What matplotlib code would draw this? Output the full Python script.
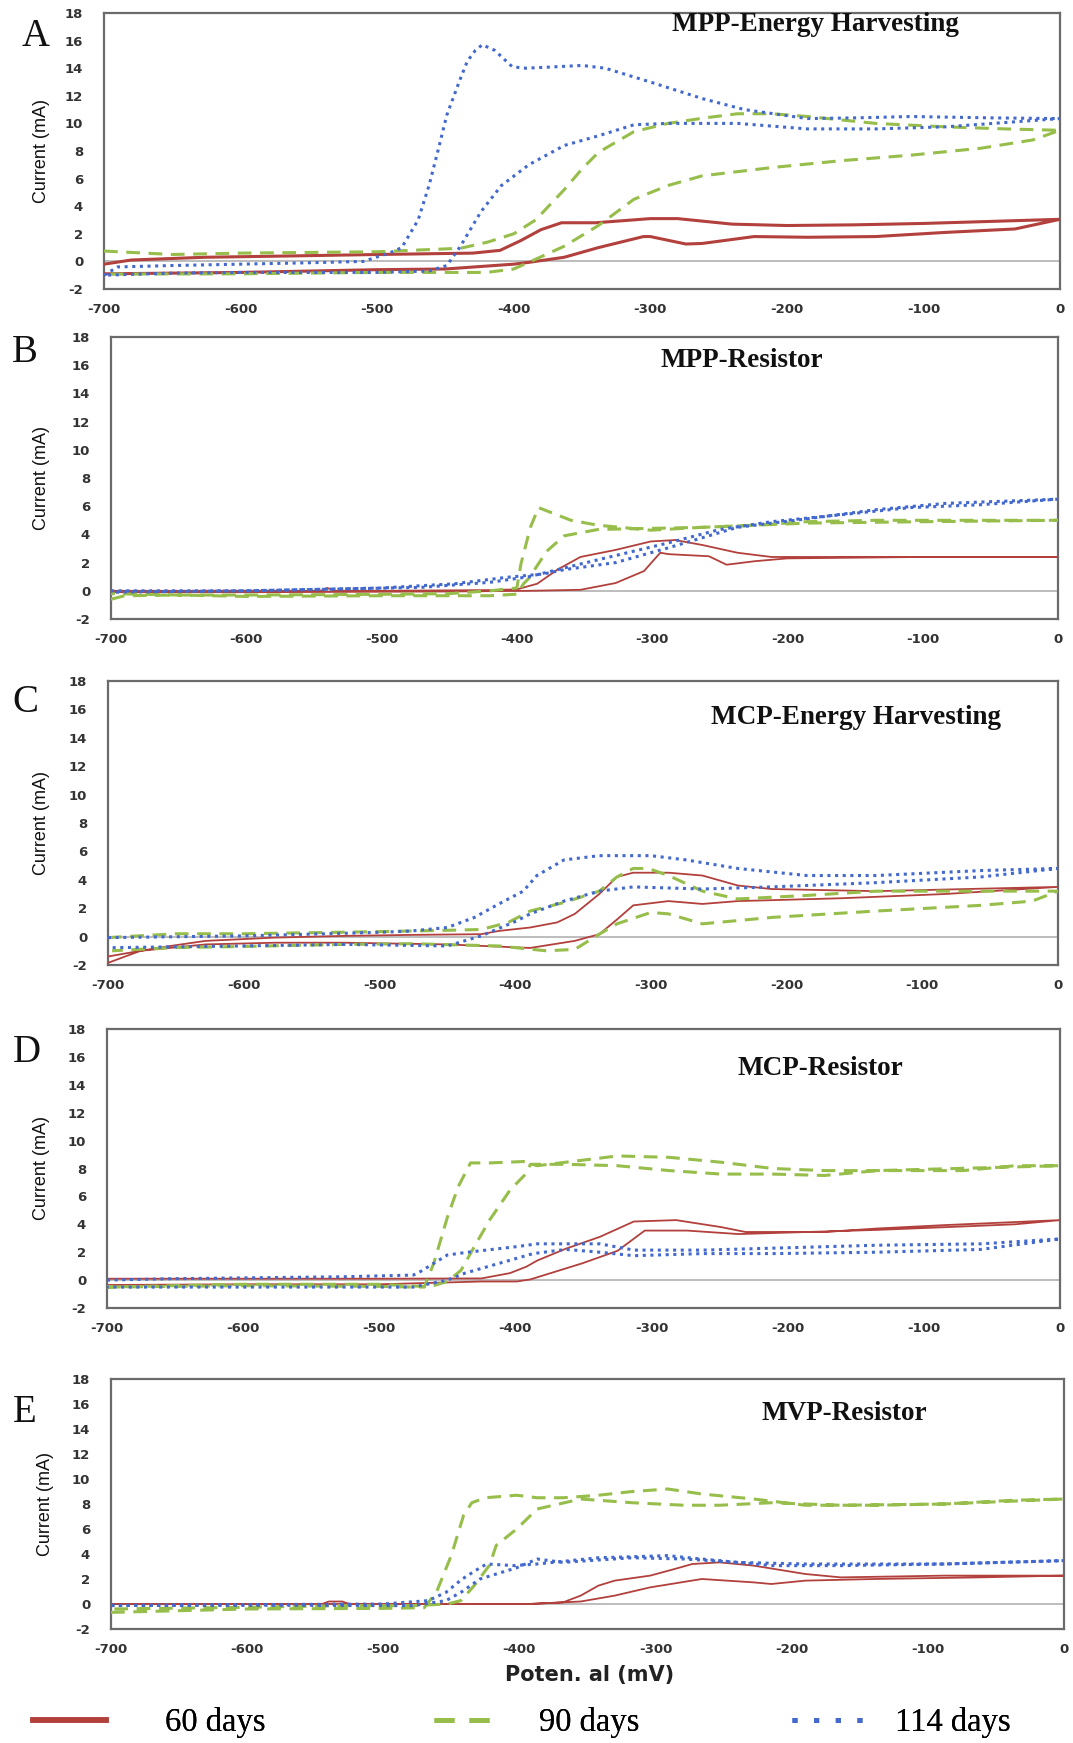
import matplotlib
matplotlib.use("Agg")
import matplotlib.pyplot as plt
from matplotlib.lines import Line2D

plt.rcParams["axes.unicode_minus"] = False

# ---------------- data (each series = closed CV loop: forward branch then return) -------------
# Panel A: MPP-Energy Harvesting
A_red_x = [-700, -680, -626, -560, -500, -430, -410, -395, -380, -365, -340, -300, -280, -260, -240, -200, -150, -100, -50, 0,
           -33, -84, -135, -185, -224, -262, -274, -300, -305, -338, -363, -389, -400, -450, -500, -600, -700]
A_red_y = [-0.2, 0.1, 0.3, 0.4, 0.5, 0.6, 0.8, 1.5, 2.3, 2.8, 2.8, 3.1, 3.1, 2.9, 2.7, 2.6, 2.65, 2.75, 2.9, 3.05,
           2.35, 2.1, 1.8, 1.75, 1.8, 1.3, 1.26, 1.8, 1.8, 1.0, 0.3, -0.07, -0.2, -0.55, -0.6, -0.8, -0.9]
A_grn_x = [-700, -650, -600, -500, -439, -419, -400, -384, -363, -350, -338, -312, -287, -260, -236, -211, -185, -135, -84, -40, 0,
           -20, -58, -109, -160, -211, -262, -287, -312, -338, -363, -389, -400, -420, -500, -600, -700]
A_grn_y = [0.75, 0.5, 0.6, 0.7, 0.95, 1.4, 2.0, 3.0, 5.2, 6.7, 7.9, 9.4, 10.0, 10.4, 10.7, 10.7, 10.5, 10.0, 9.75, 9.6, 9.5,
           8.8, 8.2, 7.7, 7.3, 6.8, 6.2, 5.5, 4.5, 2.6, 1.1, -0.07, -0.55, -0.8, -0.8, -0.9, -0.92]
A_blu_x = [-700, -690, -650, -600, -550, -510, -490, -482, -470, -462, -455, -449, -440, -434, -428, -423, -414, -401, -391, -370,
           -350, -333, -300, -262, -231, -185, -150, -109, -50, 0,
           -84, -135, -185, -236, -287, -312, -338, -363, -389, -409, -424, -439, -449, -462, -500, -600, -650, -700]
A_blu_y = [-1.0, -0.4, -0.3, -0.2, -0.1, 0.0, 0.65, 1.0, 3.0, 5.5, 8.2, 10.6, 13.0, 14.5, 15.3, 15.7, 15.3, 14.1, 14.0, 14.1,
           14.2, 14.0, 13.0, 11.8, 11.0, 10.35, 10.4, 10.5, 10.4, 10.35,
           9.75, 9.6, 9.6, 10.0, 10.0, 9.9, 9.1, 8.4, 7.0, 5.5, 3.6, 1.1, -0.3, -0.7, -0.8, -0.8, -0.85, -1.0]

# Panel B: MPP-Resistor
B_red_x = [-700, -600, -545, -540, -535, -500, -420, -400, -385, -370, -353, -327, -301, -283, -263, -237, -212, -160, -100, 0,
           -100, -200, -212, -224, -245, -258, -288, -294, -306, -327, -353, -391, -450, -600, -700]
B_red_y = [0.0, 0.0, 0.0, 0.2, 0.0, 0.0, 0.05, 0.1, 0.5, 1.5, 2.4, 2.9, 3.5, 3.6, 3.25, 2.7, 2.4, 2.4, 2.4, 2.4,
           2.4, 2.3, 2.2, 2.1, 1.85, 2.45, 2.6, 2.7, 1.4, 0.55, 0.07, 0.0, -0.05, -0.1, -0.1]
B_grn_x = [-700, -690, -650, -600, -500, -450, -420, -400, -397, -390, -384, -376, -360, -340, -301, -263, -224, -186, -135, -50, 0,
           -100, -186, -263, -340, -365, -378, -391, -395, -400, -420, -500, -600, -700]
B_grn_y = [-0.6, -0.35, -0.3, -0.3, -0.25, -0.2, 0.0, 0.2, 1.9, 4.5, 5.9, 5.6, 5.0, 4.65, 4.3, 4.5, 4.65, 4.9, 5.0, 5.0, 5.0,
           4.9, 4.8, 4.5, 4.35, 3.9, 2.8, 0.9, 0.5, -0.24, -0.35, -0.35, -0.4, -0.2]
B_blu_x = [-700, -600, -500, -446, -408, -380, -365, -327, -288, -237, -186, -135, -83, 0,
           -58, -109, -160, -212, -250, -288, -314, -353, -391, -420, -471, -600, -700]
B_blu_y = [0.0, 0.0, 0.2, 0.5, 0.95, 1.2, 1.5, 2.0, 3.05, 4.5, 5.1, 5.75, 6.2, 6.5,
           6.1, 5.9, 5.4, 4.9, 4.35, 3.4, 2.8, 1.9, 1.0, 0.6, 0.24, 0.0, -0.1]

# Panel C: MCP-Energy Harvesting
C_red_x = [-700, -676, -654, -628, -577, -526, -476, -425, -412, -389, -369, -356, -338, -325, -313, -287, -262, -236, -211, -134, 0,
           -83, -160, -236, -262, -287, -313, -325, -338, -356, -389, -450, -526, -577, -628, -676, -700]
C_red_y = [-1.85, -1.0, -0.66, -0.3, -0.07, 0.05, 0.12, 0.17, 0.4, 0.64, 1.0, 1.6, 3.0, 4.2, 4.5, 4.5, 4.3, 3.6, 3.35, 3.2, 3.5,
           3.0, 2.7, 2.5, 2.3, 2.5, 2.2, 1.2, 0.17, -0.3, -0.8, -0.55, -0.43, -0.43, -0.55, -1.0, -1.4]
C_grn_x = [-700, -650, -600, -500, -447, -425, -405, -389, -364, -338, -325, -313, -302, -287, -262, -236, -185, -134, 0,
           -19, -57, -134, -211, -262, -287, -300, -325, -338, -356, -377, -412, -476, -526, -603, -654, -697]
C_grn_y = [-0.07, 0.2, 0.2, 0.35, 0.45, 0.5, 1.0, 1.8, 2.4, 3.2, 4.2, 4.8, 4.8, 4.3, 3.2, 2.65, 2.9, 3.2, 3.2,
           2.5, 2.2, 1.8, 1.35, 0.9, 1.6, 1.7, 0.9, 0.17, -0.9, -1.0, -0.66, -0.5, -0.55, -0.7, -0.78, -1.0]
C_blu_x = [-700, -600, -500, -476, -450, -430, -412, -394, -384, -364, -338, -300, -274, -236, -185, -134, -57, 0,
           -57, -134, -211, -262, -313, -338, -364, -389, -399, -425, -450, -526, -603, -697]
C_blu_y = [-0.07, 0.05, 0.3, 0.4, 0.64, 1.35, 2.3, 3.2, 4.3, 5.4, 5.7, 5.7, 5.4, 4.8, 4.3, 4.3, 4.65, 4.8,
           4.2, 3.8, 3.5, 3.35, 3.5, 3.2, 2.5, 1.6, 1.1, 0.05, -0.66, -0.55, -0.66, -0.78]

# Panel D: MCP-Resistor
D_red_x = [-700, -600, -500, -425, -404, -392, -384, -363, -338, -313, -282, -249, -231, -173, -134, -83, 0,
           -33, -83, -134, -236, -274, -305, -325, -351, -389, -399, -425, -500, -600, -700]
D_red_y = [0.1, 0.1, 0.1, 0.12, 0.5, 0.96, 1.4, 2.25, 3.1, 4.2, 4.3, 3.8, 3.45, 3.45, 3.7, 3.95, 4.3,
           4.0, 3.8, 3.6, 3.3, 3.55, 3.55, 2.1, 1.2, 0.05, -0.1, -0.1, -0.3, -0.3, -0.35]
D_grn_x = [-700, -600, -500, -475, -467, -460, -450, -442, -433, -419, -394, -384, -363, -325, -287, -249, -211, -173, -134, -71, -33, 0,
           -134, -173, -211, -249, -287, -325, -363, -389, -392, -404, -419, -429, -440, -450, -463, -500, -600, -700]
D_grn_y = [-0.5, -0.4, -0.45, -0.5, -0.5, 1.2, 4.5, 6.7, 8.4, 8.4, 8.5, 8.2, 8.45, 8.9, 8.8, 8.45, 8.0, 7.85, 7.85, 7.85, 8.2, 8.2,
           7.85, 7.5, 7.6, 7.6, 7.85, 8.2, 8.3, 8.3, 7.65, 6.45, 4.3, 2.6, 0.7, -0.1, -0.48, -0.3, -0.3, -0.5]
D_blu_x = [-700, -653, -526, -475, -470, -460, -450, -435, -399, -384, -338, -313, -262, -134, -58, 0,
           -58, -134, -211, -262, -313, -338, -363, -387, -412, -437, -450, -475, -526, -653, -700]
D_blu_y = [0.0, 0.1, 0.24, 0.36, 0.6, 1.2, 1.8, 2.0, 2.4, 2.6, 2.6, 2.15, 2.15, 2.5, 2.6, 2.95,
           2.2, 2.0, 1.9, 1.9, 1.75, 2.0, 2.2, 1.9, 1.2, 0.5, 0.0, -0.5, -0.5, -0.5, -0.5]

# Panel E: MVP-Resistor
E_red_x = [-700, -600, -545, -540, -530, -525, -500, -393, -368, -355, -342, -330, -304, -286, -273, -253, -228, -190, -164, -88, 0,
           -62, -139, -190, -215, -228, -266, -304, -330, -355, -393, -500, -700]
E_red_y = [0.0, 0.0, 0.0, 0.2, 0.2, 0.0, 0.0, 0.0, 0.13, 0.67, 1.47, 1.87, 2.27, 2.8, 3.2, 3.33, 3.07, 2.4, 2.13, 2.27, 2.27,
           2.13, 2.0, 1.87, 1.6, 1.73, 2.0, 1.33, 0.67, 0.2, 0.0, 0.0, 0.0]
E_grn_x = [-700, -600, -500, -470, -461, -450, -441, -435, -425, -402, -387, -368, -342, -317, -291, -266, -228, -190, -139, -88, -37, 0,
           -88, -164, -215, -253, -279, -317, -355, -387, -402, -417, -422, -433, -443, -453, -478, -529, -606, -700]
E_grn_y = [-0.67, -0.4, -0.35, -0.3, 0.93, 3.9, 7.1, 8.1, 8.5, 8.7, 8.5, 8.5, 8.7, 9.0, 9.2, 8.8, 8.4, 7.9, 7.9, 8.0, 8.3, 8.4,
           8.0, 7.9, 8.1, 7.9, 7.9, 8.1, 8.4, 7.6, 6.0, 4.7, 3.1, 1.5, 0.27, 0.0, -0.13, -0.13, -0.27, -0.4]
E_blu_x = [-700, -600, -500, -467, -454, -442, -429, -424, -404, -387, -342, -291, -266, -215, -164, -88, 0,
           -88, -190, -240, -279, -317, -368, -387, -402, -429, -443, -454, -478, -600, -700]
E_blu_y = [-0.13, -0.05, 0.0, 0.27, 0.93, 2.0, 2.9, 3.2, 3.07, 3.2, 3.7, 3.87, 3.6, 3.07, 3.07, 3.2, 3.47,
           3.2, 3.2, 3.33, 3.6, 3.7, 3.33, 3.6, 2.9, 2.0, 0.93, 0.27, -0.13, -0.1, -0.1]

panel_letters = ["A", "B", "C", "D", "E"]
panel_titles = ["MPP-Energy Harvesting", "MPP-Resistor", "MCP-Energy Harvesting", "MCP-Resistor", "MVP-Resistor"]
series_labels = ["60 days", "90 days", "114 days"]
x_ticks = [-700, -600, -500, -400, -300, -200, -100, 0]
y_ticks = [-2, 0, 2, 4, 6, 8, 10, 12, 14, 16, 18]

panels = [
    [(A_red_x, A_red_y), (A_grn_x, A_grn_y), (A_blu_x, A_blu_y)],
    [(B_red_x, B_red_y), (B_grn_x, B_grn_y), (B_blu_x, B_blu_y)],
    [(C_red_x, C_red_y), (C_grn_x, C_grn_y), (C_blu_x, C_blu_y)],
    [(D_red_x, D_red_y), (D_grn_x, D_grn_y), (D_blu_x, D_blu_y)],
    [(E_red_x, E_red_y), (E_grn_x, E_grn_y), (E_blu_x, E_blu_y)],
]

# ---------------- layout / style -------------------------------------------------------
W, H = 1073, 1743
fig = plt.figure(figsize=(W / 100, H / 100), dpi=100)
fig.patch.set_facecolor("white")

# frame boxes in pixels: left, right, top, bottom
boxes = [(104, 1060, 13, 289), (111, 1058, 337, 619), (108, 1058, 681, 965),
         (107, 1060, 1029, 1308), (111, 1064, 1379, 1629)]
title_pos = [(0.744, 0.957), (0.666, 0.915), (0.787, 0.870), (0.749, 0.860), (0.770, 0.860)]
letter_pos = [(36, 37), (25, 352), (25, 703), (27, 1052), (25, 1412)]
ylabel_pos = [(41, 151), (42, 478), (41, 823), (42, 1168), (45, 1504)]

RED, GREEN, BLUE = "#B2403C", "#97BE4B", "#4369CF"
serif = ["Liberation Serif", "DejaVu Serif"]

for i, (l, r, t, b) in enumerate(boxes):
    ax = fig.add_axes([l / W, 1 - b / H, (r - l) / W, (b - t) / H])
    ax.set_xlim(-700, 0)
    ax.set_ylim(-2, 18)
    ax.set_xticks(x_ticks)
    ax.set_yticks(y_ticks)
    ax.tick_params(length=0, labelsize=9.5, labelcolor="#333333")
    ax.tick_params(axis="y", pad=15)
    ax.tick_params(axis="x", pad=10)
    for lab in ax.get_xticklabels() + ax.get_yticklabels():
        lab.set_fontweight("bold")
    for sp in ax.spines.values():
        sp.set_color("#6b6b6b")
        sp.set_linewidth(1.6)
    ax.axhline(0, color="#bdbdbd", lw=1.4, zorder=1)

    red_lw = 2.2 if i == 0 else 1.3
    (rx, ry), (gx, gy), (bx, by) = panels[i]
    ax.plot(rx, ry, color=RED, lw=red_lw, solid_joinstyle="round", zorder=3)
    ax.plot(gx, gy, color=GREEN, lw=2.2, linestyle=(0, (4.5, 2.8)), zorder=3)
    ax.plot(bx, by, color=BLUE, lw=2.2, linestyle=(0, (1.0, 1.5)), zorder=4)

    ax.text(title_pos[i][0], title_pos[i][1], panel_titles[i], transform=ax.transAxes,
            ha="center", va="center", fontsize=19.5, fontweight="bold", family=serif, color="#111111")
    fig.text(letter_pos[i][0] / W, 1 - letter_pos[i][1] / H, panel_letters[i], ha="center", va="center",
             fontsize=28, family=serif, color="#111111")
    fig.text(ylabel_pos[i][0] / W, 1 - ylabel_pos[i][1] / H, "Current (mA)", rotation=90,
             ha="center", va="center", fontsize=13, family=["Liberation Sans Narrow", "Liberation Sans", "DejaVu Sans"],
             color="#111111")

fig.text(590 / W, 1 - 1675 / H, "Poten. al (mV)", ha="center", va="center",
         fontsize=15, fontweight="bold", color="#222222")

# legend: three entries placed individually
FS = 23.5
em = FS * 100 / 72.0
leg_handles = [
    Line2D([], [], color=RED, lw=4.0),
    Line2D([], [], color=GREEN, lw=3.6, linestyle=(0, (4.0, 3.0))),
    Line2D([], [], color=BLUE, lw=3.6, linestyle=(0, (1.0, 3.33))),
]
leg_geom = [(33, 106, 165), (434, 489, 539), (792, 862, 895)]  # handle start, handle end, text start (px)
for h, lab, (hs, he, ts) in zip(leg_handles, series_labels, leg_geom):
    lg = fig.legend([h], [lab], loc="center left", bbox_to_anchor=(hs / W, 1 - 1723 / H),
                    frameon=False, prop={"family": serif, "size": FS},
                    handlelength=(he - hs) / em, handletextpad=(ts - he) / em,
                    borderpad=0, borderaxespad=0)
    fig.add_artist(lg)

fig.savefig("out.png", dpi=100, facecolor="white")
